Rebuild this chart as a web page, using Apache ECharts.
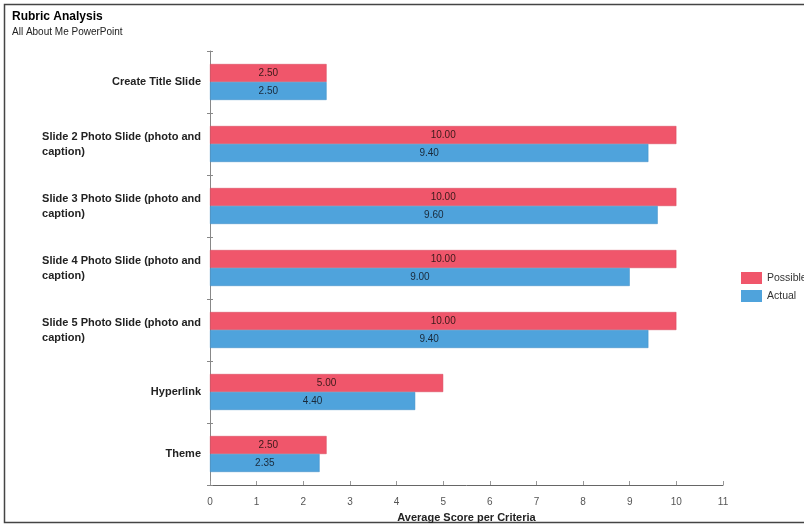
<!DOCTYPE html>
<html><head><meta charset="utf-8">
<script src="https://cdn.jsdelivr.net/npm/echarts@6/dist/echarts.min.js"></script>
<style>html,body{margin:0;padding:0;background:#fff}#c{width:804px;height:527px}</style>
</head><body><div id="c"></div>
<script>
const categories = ["Create Title Slide","Slide 2 Photo Slide (photo and caption)","Slide 3 Photo Slide (photo and caption)","Slide 4 Photo Slide (photo and caption)","Slide 5 Photo Slide (photo and caption)","Hyperlink","Theme"];
const possible = [2.5,10,10,10,10,5,2.5];
const actual = [2.5,9.4,9.6,9.0,9.4,4.4,2.35];
const xTicks = [0,1,2,3,4,5,6,7,8,9,10,11];

function wrap(s, n){
  const words = s.split(' '); const lines=[]; let cur='';
  words.forEach(w=>{ const t = cur ? cur+' '+w : w; if (t.length>n && cur){lines.push(cur);cur=w;} else cur=t; });
  if(cur) lines.push(cur);
  return lines.map(l=>'{a|'+l+'}').join('\n');
}
const font = 'Liberation Sans, Arial, sans-serif';
const chart = echarts.init(document.getElementById('c'));
chart.setOption({
  animation:false,
  title:{text:'Rubric Analysis',subtext:'All About Me PowerPoint',left:7,top:6,
    textStyle:{fontFamily:font,fontSize:12,fontWeight:'bold',color:'#000'},
    subtextStyle:{fontFamily:font,fontSize:10,color:'#222'},itemGap:4},
  legend:{orient:'vertical',left:736,top:267,itemWidth:21,itemHeight:12,itemGap:6,
    itemStyle:{borderWidth:0},
    textStyle:{fontFamily:font,fontSize:10.5,color:'#333'},icon:'rect',data:['Possible','Actual']},
  grid:{left:210,right:81,top:51,bottom:42,containLabel:false,outerBoundsMode:'none'},
  xAxis:{type:'value',min:0,max:11,interval:1,
    name:'Average Score per Criteria',nameLocation:'middle',nameGap:27,
    nameTextStyle:{fontFamily:font,fontSize:11,fontWeight:'bold',color:'#222'},
    axisLine:{show:true,lineStyle:{color:'#666'}},
    axisTick:{show:true,inside:true,length:4,lineStyle:{color:'#999'}},
    axisLabel:{fontFamily:font,fontSize:10,color:'#555',margin:12,
      formatter:v=>xTicks.includes(v)?String(v):''},
    splitLine:{show:false}},
  yAxis:[{type:'category',data:categories,inverse:true,
    axisLine:{lineStyle:{color:'#888'}},
    axisTick:{show:false},
    axisLabel:{margin:9,formatter:v=>wrap(v,30),
      rich:{a:{align:'left',fontFamily:font,fontSize:11,fontWeight:'bold',color:'#222',lineHeight:15}}}},
    {type:'category',data:categories,inverse:true,position:'left',offset:-3,
    axisLine:{show:false},axisLabel:{show:false},
    axisTick:{show:true,length:6,lineStyle:{color:'#888'}}}],
  series:[
    {name:'Possible',type:'bar',data:possible,barCategoryGap:'42%',barGap:'0%',
     itemStyle:{color:'#F0566B',borderColor:'#d4475b',borderWidth:0.5},
     label:{show:true,position:'inside',formatter:p=>p.value.toFixed(2),
       fontFamily:font,fontSize:10,color:'#3a1a1a'}},
    {name:'Actual',type:'bar',data:actual,
     itemStyle:{color:'#4FA3DC',borderColor:'#3f8dc4',borderWidth:0.5},
     label:{show:true,position:'inside',formatter:p=>p.value.toFixed(2),
       fontFamily:font,fontSize:10,color:'#1a2a3a'}}
  ],
  graphic:[{type:'rect',shape:{x:4.5,y:4.5,width:900,height:518},
    style:{fill:'none',stroke:'#444',lineWidth:1.5},silent:true}]
});
</script></body></html>
